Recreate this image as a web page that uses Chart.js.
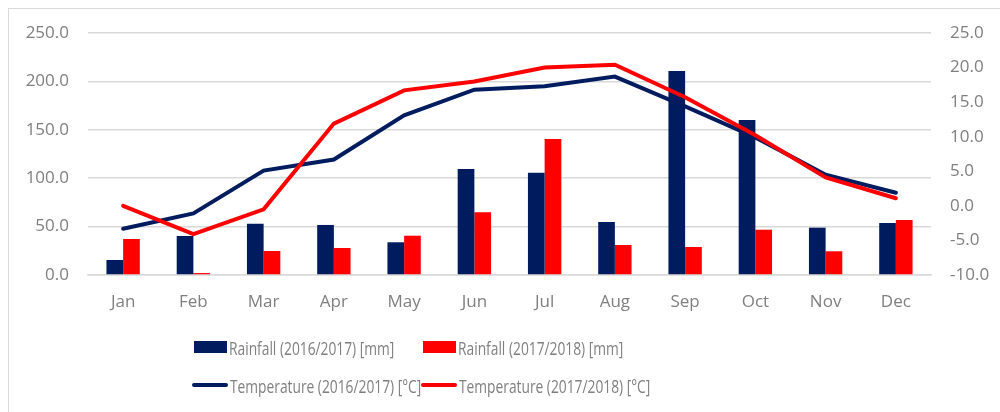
<!DOCTYPE html>
<html>
<head>
<meta charset="utf-8">
<script src="https://cdn.jsdelivr.net/npm/chart.js@4"></script>
<style>
  body { margin: 0; background: #fff; }
  #wrap { position: relative; width: 1000px; height: 412px; overflow: hidden; }
  #frame { position: absolute; left: 8px; top: 8px; width: 1100px; height: 500px; border: 1px solid #d9d9d9; }
  canvas { position: absolute; left: 0; top: 0; }
  #legend { position: absolute; left: 192px; top: 337px; display: grid; grid-template-columns: 229px 300px; row-gap: 18px;
            font-family: "Open Sans", sans-serif; font-size: 18.5px; color: #7f7f7f; }
  .item { display: flex; align-items: center; height: 20px; white-space: nowrap; }
  .sw { margin-right: 2px; flex-shrink: 0; }
  .txt { display: inline-block; transform: scaleX(0.745); transform-origin: left center; }
</style>
</head>
<body>
<div id="wrap">
  <div id="frame"></div>
  <canvas id="chart" width="1000" height="412"></canvas>
  <div id="legend"></div>
</div>
<script>
const months = ["Jan", "Feb", "Mar", "Apr", "May", "Jun", "Jul", "Aug", "Sep", "Oct", "Nov", "Dec"];
const rain1617 = [15.5, 40.3, 53.0, 51.7, 33.8, 109.5, 105.7, 54.8, 210.7, 160.0, 48.9, 53.7];
const rain1718 = [37.2, 2.0, 24.8, 27.9, 40.6, 64.8, 140.5, 31.0, 28.9, 46.8, 24.5, 56.8];
const temp1617 = [-3.3, -1.1, 5.1, 6.7, 13.1, 16.8, 17.3, 18.7, 14.4, 9.9, 4.5, 1.9];
const temp1718 = [0.0, -4.1, -0.5, 11.9, 16.7, 18.0, 20.0, 20.4, 15.7, 10.2, 4.1, 1.1];

const navy = "#001c5f";
const red = "#ff0000";
const tickFont = { family: "Open Sans", size: 17 };
const textColor = "#7f7f7f";

const chart = new Chart(document.getElementById("chart"), {
  data: {
    labels: months,
    datasets: [
      { type: "bar", label: "Rainfall (2016/2017) [mm]", data: rain1617, backgroundColor: navy, yAxisID: "y", order: 3,
        barPercentage: 1, categoryPercentage: 0.475 },
      { type: "bar", label: "Rainfall (2017/2018) [mm]", data: rain1718, backgroundColor: red, yAxisID: "y", order: 3,
        barPercentage: 1, categoryPercentage: 0.475 },
      { type: "line", label: "Temperature (2016/2017) [°C]", data: temp1617, borderColor: navy, backgroundColor: navy,
        borderWidth: 4, pointRadius: 0, borderCapStyle: "round", yAxisID: "y1", order: 1 },
      { type: "line", label: "Temperature (2017/2018) [°C]", data: temp1718, borderColor: red, backgroundColor: red,
        borderWidth: 4, pointRadius: 0, borderCapStyle: "round", yAxisID: "y1", order: 0 },
    ],
  },
  options: {
    responsive: false,
    animation: false,
    layout: { padding: { top: 33, left: 0, right: 0, bottom: 0 } },
    plugins: { legend: { display: false }, tooltip: { enabled: false } },
    scales: {
      x: {
        offset: true,
        grid: { display: false, drawTicks: false },
        border: { color: "#d9d9d9", width: 1.5 },
        ticks: { color: textColor, font: tickFont, padding: 17 },
        afterFit: (s) => { s.height = 137; },
      },
      y: {
        position: "left",
        min: 0, max: 250,
        grid: { color: "#d9d9d9", lineWidth: 1.5, drawTicks: false },
        border: { display: false },
        ticks: { stepSize: 50, color: textColor, font: tickFont, padding: 19, callback: (v) => v.toFixed(1) },
        afterFit: (s) => { s.width = 88; },
      },
      y1: {
        position: "right",
        min: -10, max: 25,
        grid: { display: false, drawTicks: false },
        border: { display: false },
        ticks: { stepSize: 5, color: textColor, font: tickFont, padding: 19, callback: (v) => v.toFixed(1) },
        afterFit: (s) => { s.width = 69; },
      },
    },
  },
});

// legend laid out in two rows like the original
const legend = document.getElementById("legend");
chart.data.datasets.forEach((ds) => {
  const item = document.createElement("div");
  item.className = "item";
  const sw = document.createElement("span");
  sw.className = "sw";
  if (ds.type === "bar") {
    sw.style.cssText = "display:inline-block;width:33px;height:12px;margin-left:2px;background:" + ds.backgroundColor;
  } else {
    sw.style.cssText = "display:inline-block;width:36px;height:4px;border-radius:2px;background:" + ds.borderColor;
  }
  const txt = document.createElement("span");
  txt.className = "txt";
  txt.textContent = ds.label;
  item.appendChild(sw);
  item.appendChild(txt);
  legend.appendChild(item);
});
</script>
</body>
</html>
